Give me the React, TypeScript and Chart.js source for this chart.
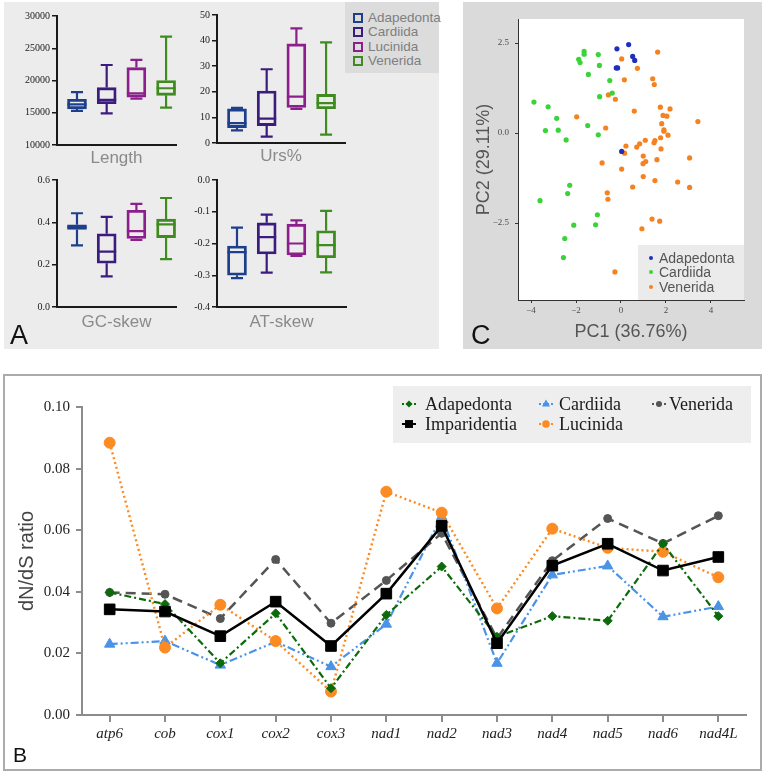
import React, { useEffect, useRef } from 'react';
import { Chart, registerables } from 'chart.js';

Chart.register(...registerables);

const SANS = '"Liberation Sans", Arial, Helvetica, sans-serif';
const SERIF = '"Liberation Serif", "Times New Roman", serif';

// ---------- Panel A (box plots) ----------
const boxGroups = ['Adapedonta', 'Cardiida', 'Lucinida', 'Venerida'];
const boxColors = ['#1d3f8c', '#3b1c7e', '#8c1f8c', '#3f8b1f'];
// each row: [min, q1, median, q3, max]
const lengthStats = [
  [15300, 15600, 16300, 17100, 18200],
  [14900, 16400, 17000, 18900, 22400],
  [17200, 17400, 18000, 22000, 23200],
  [15800, 17700, 18800, 20000, 26800],
];
const ursStats = [
  [4.9, 6.0, 7.8, 13.3, 13.7],
  [2.5, 6.8, 9.5, 20.3, 28.8],
  [13.3, 13.9, 18.1, 38.7, 44.8],
  [3.3, 13.4, 15.6, 19.0, 39.3],
];
const gcStats = [
  [0.291, 0.366, 0.377, 0.388, 0.443],
  [0.145, 0.207, 0.262, 0.346, 0.426],
  [0.317, 0.324, 0.358, 0.457, 0.487],
  [0.226, 0.328, 0.39, 0.415, 0.515],
];
const atStats = [
  [-0.309, -0.3, -0.227, -0.208, -0.15],
  [-0.292, -0.233, -0.18, -0.135, -0.109],
  [-0.239, -0.236, -0.2, -0.139, -0.127],
  [-0.291, -0.245, -0.205, -0.16, -0.097],
];

// ---------- Panel C (PCA scatter) ----------
const pcLegend = ['Adapedonta', 'Cardiida', 'Venerida'];
const pcColors = ['#1f2fbd', '#3ad43a', '#f5821f'];
const pcAdapedonta = [
  [-0.18, 2.34], [0.34, 2.46], [0.52, 2.13], [0.61, 2.02], [-0.15, 1.81], [-0.21, 1.81], [0.03, -0.51],
];
const pcCardiida = [
  [-1.64, 2.27], [-1.64, 2.19], [-1.88, 2.05], [-1.82, 1.96], [-1.01, 2.18], [-0.96, 1.88], [-1.45, 1.63],
  [-0.5, 1.46], [-0.39, 1.11], [-0.95, 1.01], [-3.87, 0.86], [-3.24, 0.73], [-2.86, 0.41], [-3.36, 0.07],
  [-2.79, 0.08], [-2.44, -0.19], [-1.48, 0.21], [-1.01, -0.05], [-2.28, -1.45], [-2.37, -1.68],
  [-3.6, -1.88], [-1.05, -2.27], [-1.13, -2.55], [-2.1, -2.56], [-2.5, -2.93], [-2.56, -3.46],
];
const pcVenerida = [
  [1.63, 2.25], [0.03, 2.06], [0.73, 1.8], [0.15, 1.48], [1.41, 1.51], [1.48, 1.35], [-0.56, 1.06],
  [-0.25, 0.94], [0.59, 0.61], [1.75, 0.72], [2.18, 0.67], [1.87, 0.49], [2.04, 0.47], [3.42, 0.32],
  [-1.97, 0.45], [-0.68, 0.14], [1.81, 0.26], [1.91, 0.09], [1.91, 0.05], [2.09, -0.06], [1.76, -0.13],
  [1.08, -0.2], [0.83, -0.3], [1.51, -0.21], [1.47, -0.27], [0.22, -0.36], [0.7, -0.39], [0.16, -0.56],
  [1.78, -0.44], [0.99, -0.64], [3.05, -0.69], [1.1, -0.79], [0.98, -0.85], [1.6, -0.74], [-0.84, -0.83],
  [0.03, -1.0], [0.99, -1.21], [1.51, -1.32], [2.52, -1.36], [0.52, -1.5], [3.05, -1.51], [-0.61, -1.66],
  [-0.58, -1.84], [1.38, -2.39], [1.72, -2.45], [0.93, -2.66], [-0.27, -3.86],
];
const pcXTicks = [-4, -2, 0, 2, 4];
const pcYTicks = [-2.5, 0, 2.5];

// ---------- Panel B (dN/dS lines) ----------
const genes = ['atp6', 'cob', 'cox1', 'cox2', 'cox3', 'nad1', 'nad2', 'nad3', 'nad4', 'nad5', 'nad6', 'nad4L'];
const dnAdapedonta = [0.0398, 0.036, 0.0168, 0.033, 0.0087, 0.0325, 0.0482, 0.0254, 0.0321, 0.0306, 0.0556, 0.0321];
const dnImparidentia = [0.0343, 0.0336, 0.0256, 0.0368, 0.0224, 0.0394, 0.0614, 0.0233, 0.0485, 0.0556, 0.0469, 0.0513];
const dnCardiida = [0.023, 0.024, 0.0162, 0.0238, 0.0157, 0.0295, 0.0644, 0.0168, 0.0455, 0.0484, 0.0319, 0.0352];
const dnLucinida = [0.0884, 0.0219, 0.0358, 0.024, 0.0076, 0.0725, 0.0657, 0.0346, 0.0605, 0.0543, 0.053, 0.0447];
const dnVenerida = [0.0398, 0.0392, 0.0313, 0.0505, 0.0298, 0.0437, 0.059, 0.0249, 0.0501, 0.0638, 0.0557, 0.0647];

type Cfg = () => any;

function ChartCanvas({ left, top, width, height, config }: { left: number; top: number; width: number; height: number; config: Cfg }) {
  const ref = useRef<HTMLCanvasElement>(null);
  useEffect(() => {
    const chart = new Chart(ref.current as HTMLCanvasElement, config());
    return () => chart.destroy();
  }, []);
  return (
    <canvas
      ref={ref}
      width={width}
      height={height}
      style={{ position: 'absolute', left, top, width, height }}
    />
  );
}

function makeBoxPlugin(stats: number[][]) {
  return {
    id: 'boxWhisker',
    afterDatasetsDraw(chart: any) {
      const { ctx } = chart;
      const x = chart.scales.x;
      const y = chart.scales.y;
      ctx.save();
      ctx.lineWidth = 2.2;
      ctx.lineCap = 'butt';
      stats.forEach((s, i) => {
        const cx = x.getPixelForValue(i + 1);
        const [mn, q1, md, q3, mx] = s.map((v) => y.getPixelForValue(v));
        ctx.strokeStyle = boxColors[i];
        ctx.beginPath();
        ctx.moveTo(cx, q3);
        ctx.lineTo(cx, mx);
        ctx.moveTo(cx, q1);
        ctx.lineTo(cx, mn);
        ctx.moveTo(cx - 6, mx);
        ctx.lineTo(cx + 6, mx);
        ctx.moveTo(cx - 6, mn);
        ctx.lineTo(cx + 6, mn);
        ctx.moveTo(cx - 9.5, md);
        ctx.lineTo(cx + 9.5, md);
        ctx.stroke();
      });
      ctx.restore();
    },
  };
}

function boxConfig(
  stats: number[][],
  title: string,
  yMin: number,
  yMax: number,
  step: number,
  xMax: number,
  fmt: (v: number) => string,
  padTop: number,
  axisH: number
) {
  return () => ({
    type: 'bar',
    data: {
      datasets: [
        {
          data: stats.map((s, i) => ({ x: i + 1, y: [s[1], s[3]] })),
          backgroundColor: 'rgba(0,0,0,0)',
          borderColor: boxColors,
          borderWidth: 2.2,
          borderSkipped: false,
          barThickness: 19,
        },
      ],
    },
    options: {
      animation: false,
      responsive: false,
      maintainAspectRatio: false,
      layout: { padding: { left: 0, top: padTop, right: 6, bottom: 2 } },
      plugins: { legend: { display: false }, tooltip: { enabled: false } },
      scales: {
        x: {
          type: 'linear',
          min: 0.327,
          max: xMax,
          offset: false,
          ticks: { display: false },
          grid: { display: false, offset: false },
          border: { display: true, color: '#1a1a1a', width: 2 },
          title: {
            display: true,
            text: title,
            color: '#8a8a8a',
            font: { family: SANS, size: 17 },
            padding: 0,
          },
          afterFit: (s: any) => {
            s.height = axisH;
          },
        },
        y: {
          min: yMin,
          max: yMax,
          ticks: {
            stepSize: step,
            callback: (v: any) => fmt(Number(v)),
            color: '#1a1a1a',
            font: { family: SERIF, size: 10 },
            padding: 2,
          },
          grid: { display: true, drawOnChartArea: false, drawTicks: true, tickLength: 5, color: '#1a1a1a', lineWidth: 1.5 },
          border: { display: true, color: '#1a1a1a', width: 2 },
          afterFit: (s: any) => {
            s.width = 53;
          },
        },
      },
    },
    plugins: [makeBoxPlugin(stats)],
  });
}

const minusFmt = (v: number, d: number) => (v < 0 ? '\u2212' : '') + Math.abs(v).toFixed(d);

const scatterConfig: Cfg = () => ({
  type: 'scatter',
  data: {
    datasets: [pcAdapedonta, pcCardiida, pcVenerida].map((pts, i) => ({
      label: pcLegend[i],
      data: pts.map(([x, y]) => ({ x, y })),
      backgroundColor: pcColors[i],
      borderColor: pcColors[i],
      borderWidth: 0,
      pointRadius: 2.6,
    })),
  },
  options: {
    animation: false,
    responsive: false,
    maintainAspectRatio: false,
    layout: { padding: { left: 0, top: 17, right: 18, bottom: 0 } },
    plugins: { legend: { display: false }, tooltip: { enabled: false } },
    scales: {
      x: {
        type: 'linear',
        min: -4.58,
        max: 5.47,
        afterBuildTicks: (s: any) => {
          s.ticks = pcXTicks.map((value) => ({ value }));
        },
        ticks: {
          callback: (v: any) => minusFmt(Number(v), 0),
          color: '#4d4d4d',
          font: { family: SERIF, size: 9 },
          padding: 2,
          maxRotation: 0,
        },
        grid: { display: true, drawOnChartArea: false, drawTicks: true, tickLength: 3, color: '#333', lineWidth: 1 },
        border: { display: true, color: '#333', width: 1 },
        title: {
          display: true,
          text: 'PC1 (36.76%)',
          color: '#555',
          font: { family: SANS, size: 18 },
          padding: { top: 0, bottom: 6 },
        },
        afterFit: (s: any) => {
          s.height = 49;
        },
      },
      y: {
        type: 'linear',
        min: -4.64,
        max: 3.17,
        afterBuildTicks: (s: any) => {
          s.ticks = pcYTicks.map((value) => ({ value }));
        },
        ticks: {
          callback: (v: any) => minusFmt(Number(v), 1),
          color: '#4d4d4d',
          font: { family: SERIF, size: 9 },
          padding: 6,
        },
        grid: { display: true, drawOnChartArea: false, drawTicks: true, tickLength: 3, color: '#333', lineWidth: 1 },
        border: { display: true, color: '#333', width: 1 },
        title: {
          display: true,
          text: 'PC2 (29.11%)',
          color: '#555',
          font: { family: SANS, size: 18 },
          padding: { top: 10, bottom: 0 },
        },
        afterFit: (s: any) => {
          s.width = 55;
        },
      },
    },
  },
  plugins: [
    {
      id: 'whiteArea',
      beforeDraw(chart: any) {
        const { ctx, chartArea: a } = chart;
        ctx.save();
        ctx.fillStyle = '#ffffff';
        ctx.fillRect(a.left, a.top, a.right - a.left, a.bottom - a.top);
        ctx.restore();
      },
    },
    {
      id: 'pcLegend',
      afterDatasetsDraw(chart: any) {
        const { ctx, chartArea: a } = chart;
        const bx = a.right - 106;
        const by = a.bottom - 55;
        ctx.save();
        ctx.fillStyle = '#ebebeb';
        ctx.fillRect(bx, by, a.right - bx, a.bottom - by);
        ctx.font = `14px ${SANS}`;
        ctx.textBaseline = 'middle';
        const rows = [13, 27, 42];
        pcLegend.forEach((name, i) => {
          ctx.fillStyle = pcColors[i];
          ctx.beginPath();
          ctx.arc(bx + 13, by + rows[i], 2, 0, Math.PI * 2);
          ctx.fill();
          ctx.fillStyle = '#555';
          ctx.fillText(name, bx + 21, by + rows[i] + 1);
        });
        ctx.restore();
      },
    },
  ],
});

type LineSpec = {
  label: string;
  data: number[];
  color: string;
  dash: number[];
  width: number;
  point: string;
  radius: number;
  legendRadius: number;
  col: number;
  row: number;
};

const lineSpecs: LineSpec[] = [
  { label: 'Imparidentia', data: dnImparidentia, color: '#000000', dash: [], width: 2.5, point: 'rect', radius: 7.5, legendRadius: 5.5, col: 0, row: 1 },
  { label: 'Adapedonta', data: dnAdapedonta, color: '#0b6b0b', dash: [7, 3, 2, 3], width: 2.2, point: 'rectRot', radius: 4.5, legendRadius: 3.5, col: 0, row: 0 },
  { label: 'Lucinida', data: dnLucinida, color: '#fb8b22', dash: [2, 3], width: 2.4, point: 'circle', radius: 5.5, legendRadius: 3.8, col: 1, row: 1 },
  { label: 'Cardiida', data: dnCardiida, color: '#4a93e6', dash: [8, 3, 2, 3, 2, 3], width: 2.2, point: 'triangle', radius: 6, legendRadius: 4.5, col: 1, row: 0 },
  { label: 'Venerida', data: dnVenerida, color: '#555555', dash: [10, 6], width: 2.5, point: 'circle', radius: 4, legendRadius: 3, col: 2, row: 0 },
];

function drawMarker(ctx: CanvasRenderingContext2D, style: string, x: number, y: number, r: number) {
  ctx.beginPath();
  if (style === 'circle') ctx.arc(x, y, r, 0, Math.PI * 2);
  else if (style === 'rect') ctx.rect(x - r * 0.72, y - r * 0.72, r * 1.44, r * 1.44);
  else if (style === 'triangle') {
    ctx.moveTo(x, y - r);
    ctx.lineTo(x + r * 0.9, y + r * 0.55);
    ctx.lineTo(x - r * 0.9, y + r * 0.55);
    ctx.closePath();
  } else {
    ctx.moveTo(x, y - r);
    ctx.lineTo(x + r, y);
    ctx.lineTo(x, y + r);
    ctx.lineTo(x - r, y);
    ctx.closePath();
  }
  ctx.fill();
}

const lineConfig: Cfg = () => ({
  type: 'line',
  data: {
    labels: genes,
    datasets: lineSpecs.map((s) => ({
      label: s.label,
      data: s.data,
      borderColor: s.color,
      backgroundColor: s.color,
      borderWidth: s.width,
      borderDash: s.dash,
      tension: 0,
      fill: false,
      pointStyle: s.point,
      pointRadius: s.radius,
      pointBackgroundColor: s.color,
      pointBorderColor: s.color,
      pointBorderWidth: 1,
    })),
  },
  options: {
    animation: false,
    responsive: false,
    maintainAspectRatio: false,
    layout: { padding: { left: 0, top: 31, right: 14, bottom: 0 } },
    plugins: { legend: { display: false }, tooltip: { enabled: false } },
    scales: {
      x: {
        offset: true,
        ticks: {
          font: { family: SERIF, size: 15, style: 'italic' },
          color: '#222',
          padding: 3,
          maxRotation: 0,
          autoSkip: false,
        },
        grid: { display: true, drawOnChartArea: false, drawTicks: true, tickLength: 7, color: '#8c8c8c', lineWidth: 2, offset: false },
        border: { display: true, color: '#8c8c8c', width: 2 },
        afterFit: (s: any) => {
          s.height = 54;
        },
      },
      y: {
        min: 0,
        max: 0.1,
        ticks: {
          stepSize: 0.02,
          callback: (v: any) => Number(v).toFixed(2),
          font: { family: SERIF, size: 15 },
          color: '#222',
          padding: 6,
        },
        grid: { display: true, drawOnChartArea: false, drawTicks: true, tickLength: 6, color: '#8c8c8c', lineWidth: 2 },
        border: { display: true, color: '#8c8c8c', width: 2 },
        title: {
          display: true,
          text: 'dN/dS ratio',
          color: '#444',
          font: { family: SANS, size: 20 },
          padding: { top: 10, bottom: 0 },
        },
        afterFit: (s: any) => {
          s.width = 77;
        },
      },
    },
  },
  plugins: [
    {
      id: 'bLegend',
      afterDraw(chart: any) {
        const { ctx, chartArea: a } = chart;
        const bx = a.right - 353;
        const by = a.top - 21;
        ctx.save();
        ctx.fillStyle = '#eeeeee';
        ctx.fillRect(bx, by, 358, 57);
        const markerX = [16, 153, 266];
        const textX = [32, 166, 276];
        const rowY = [18, 38];
        ctx.font = `18px ${SERIF}`;
        ctx.textBaseline = 'middle';
        lineSpecs.forEach((s) => {
          const mx = bx + markerX[s.col];
          const my = by + rowY[s.row];
          ctx.strokeStyle = s.color;
          ctx.fillStyle = s.color;
          ctx.lineWidth = 2;
          ctx.setLineDash(s.dash.length ? [2, 2] : []);
          ctx.beginPath();
          ctx.moveTo(mx - 7, my);
          ctx.lineTo(mx + 7, my);
          ctx.stroke();
          ctx.setLineDash([]);
          drawMarker(ctx, s.point, mx, my, s.legendRadius);
          ctx.fillStyle = '#1a1a1a';
          ctx.fillText(s.label, bx + textX[s.col], my + 1);
        });
        ctx.restore();
      },
    },
  ],
});

const lengthCfg = boxConfig(lengthStats, 'Length', 10000, 30000, 5000, 4.334, (v) => String(v), 14, 24);
const ursCfg = boxConfig(ursStats, 'Urs%', 0, 50, 10, 4.637, (v) => String(v), 13, 24);
const gcCfg = boxConfig(gcStats, 'GC-skew', 0, 0.6, 0.2, 4.334, (v) => v.toFixed(1), 14, 26);
const atCfg = boxConfig(atStats, 'AT-skew', -0.4, 0, 0.1, 4.67, (v) => (Math.abs(v) < 1e-9 ? '0.0' : v.toFixed(1)), 14, 26);

export default function App() {
  const letter = (t: string, left: number, top: number, size: number) => (
    <div
      style={{
        position: 'absolute',
        left,
        top,
        fontFamily: SANS,
        fontSize: size,
        lineHeight: `${size}px`,
        color: '#111',
      }}
    >
      {t}
    </div>
  );
  return (
    <div
      style={{
        position: 'absolute',
        left: 0,
        top: 0,
        width: 766,
        height: 776,
        background: '#ffffff',
        overflow: 'hidden',
      }}
    >
      {/* Panel A background */}
      <div style={{ position: 'absolute', left: 4, top: 2, width: 435, height: 347, background: '#ececec' }} />
      <div style={{ position: 'absolute', left: 345, top: 2, width: 94, height: 71, background: '#dcdcdc' }}>
        {boxGroups.map((g, i) => (
          <React.Fragment key={g}>
            <div
              style={{
                position: 'absolute',
                left: 8,
                top: 16 + i * 14.4 - 5,
                width: 10,
                height: 10,
                boxSizing: 'border-box',
                border: `2px solid ${boxColors[i]}`,
              }}
            />
            <div
              style={{
                position: 'absolute',
                left: 23,
                top: 16 + i * 14.4 - 8,
                height: 16,
                lineHeight: '16px',
                fontFamily: SANS,
                fontSize: 13.5,
                color: '#7f7f7f',
                whiteSpace: 'nowrap',
              }}
            >
              {g}
            </div>
          </React.Fragment>
        ))}
      </div>
      <ChartCanvas left={4} top={2} width={178} height={169} config={lengthCfg} />
      <ChartCanvas left={164} top={2} width={187} height={167} config={ursCfg} />
      <ChartCanvas left={4} top={166} width={178} height={169} config={gcCfg} />
      <ChartCanvas left={164} top={166} width={188} height={169} config={atCfg} />
      {letter('A', 10, 322, 27)}

      {/* Panel C */}
      <div style={{ position: 'absolute', left: 463, top: 2, width: 299, height: 347, background: '#dadada' }} />
      <ChartCanvas left={463} top={2} width={299} height={347} config={scatterConfig} />
      {letter('C', 471, 322, 27)}

      {/* Panel B */}
      <div
        style={{
          position: 'absolute',
          left: 3,
          top: 374,
          width: 759,
          height: 397,
          boxSizing: 'border-box',
          border: '2px solid #ababab',
        }}
      />
      <ChartCanvas left={5} top={376} width={755} height={393} config={lineConfig} />
      {letter('B', 13, 744, 21)}
    </div>
  );
}
